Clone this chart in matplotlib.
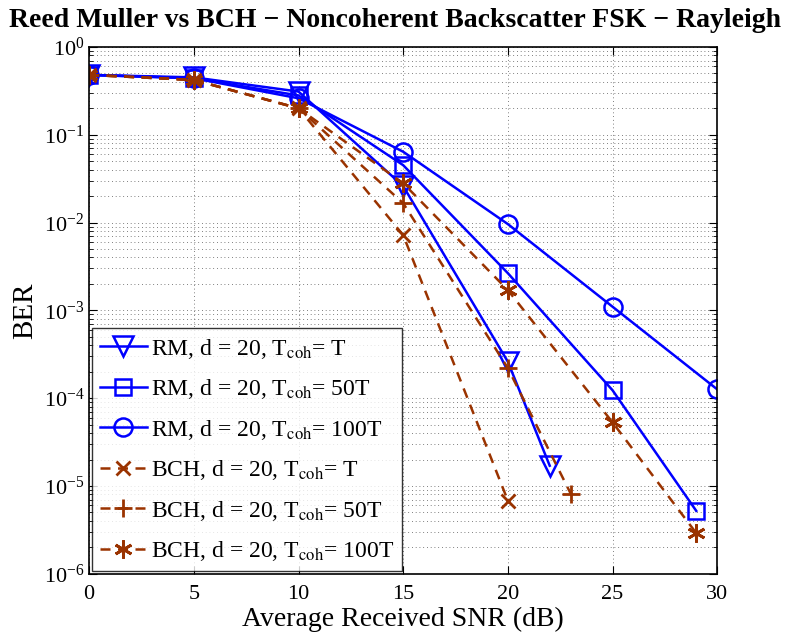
import matplotlib
matplotlib.use('Agg')
import matplotlib.pyplot as plt
import numpy as np

plt.rcParams['font.family'] = ['Liberation Serif', 'DejaVu Serif']
plt.rcParams['mathtext.fontset'] = 'stix'

# データ (Average Received SNR in dB, BER)
snr_rm_t = [0, 5, 10, 15, 20, 22]
ber_rm_t = [0.48, 0.45, 0.31, 0.026, 2.6e-4, 1.7e-5]

snr_rm_50 = [0, 5, 10, 15, 20, 25, 29]
ber_rm_50 = [0.48, 0.44, 0.28, 0.045, 2.65e-3, 1.23e-4, 5.2e-6]

snr_rm_100 = [0, 5, 10, 15, 20, 25, 30]
ber_rm_100 = [0.48, 0.44, 0.26, 0.064, 9.6e-3, 1.1e-3, 1.26e-4]

snr_bch_t = [0, 5, 10, 15, 20]
ber_bch_t = [0.48, 0.42, 0.2, 7.2e-3, 6.8e-6]

snr_bch_50 = [0, 5, 10, 15, 20, 23]
ber_bch_50 = [0.48, 0.42, 0.2, 0.0166, 2.2e-4, 8.2e-6]

snr_bch_100 = [0, 5, 10, 15, 20, 25, 29]
ber_bch_100 = [0.48, 0.42, 0.2, 0.028, 1.7e-3, 5.3e-5, 2.9e-6]

labels = [r'RM, d = 20, T$_{\rm coh}$= T',
          r'RM, d = 20, T$_{\rm coh}$= 50T',
          r'RM, d = 20, T$_{\rm coh}$= 100T',
          r'BCH, d = 20, T$_{\rm coh}$= T',
          r'BCH, d = 20, T$_{\rm coh}$= 50T',
          r'BCH, d = 20, T$_{\rm coh}$= 100T']

blue = '#0000ff'
brown = '#9a3300'

fig = plt.figure(figsize=(7.89, 6.34), dpi=100)
ax = fig.add_axes([0.113, 0.095, 0.796, 0.831])

lw = 1.8
ax.semilogy(snr_rm_t, ber_rm_t, '-', color=blue, lw=lw, marker='v', ms=14,
            mfc='none', mec=blue, mew=1.8, label=labels[0])
ax.semilogy(snr_rm_50, ber_rm_50, '-', color=blue, lw=lw, marker='s', ms=11,
            mfc='none', mec=blue, mew=1.8, label=labels[1])
ax.semilogy(snr_rm_100, ber_rm_100, '-', color=blue, lw=lw, marker='o', ms=13,
            mfc='none', mec=blue, mew=1.8, label=labels[2])
ax.semilogy(snr_bch_t, ber_bch_t, '--', color=brown, lw=lw, marker='x', ms=10,
            mew=2, dashes=(4, 3), label=labels[3])
ax.semilogy(snr_bch_50, ber_bch_50, '--', color=brown, lw=lw, marker='+', ms=13,
            mew=2, dashes=(4, 3), label=labels[4])
ax.semilogy(snr_bch_100, ber_bch_100, '--', color=brown, lw=lw, marker=(6, 2, 0),
            ms=13, mew=2, mec=brown, dashes=(4, 3), label=labels[5])

ax.set_xlim(0, 30)
ax.set_ylim(1e-6, 1)
ax.set_xticks([0, 5, 10, 15, 20, 25, 30])
ax.set_yticks([1e-6, 1e-5, 1e-4, 1e-3, 1e-2, 1e-1, 1])

ax.grid(True, which='major', axis='x', linestyle=(0, (1, 3.5)), color='#555555', lw=0.6)
ax.grid(True, which='both', axis='y', linestyle=(0, (1, 3.5)), color='#555555', lw=0.6)
ax.tick_params(which='both', direction='in', top=True, right=True, labelsize=16)
ax.tick_params(axis='x', pad=8)
ax.tick_params(which='major', length=6)
ax.tick_params(which='minor', length=3)
for s in ax.spines.values():
    s.set_linewidth(1.2)

ax.set_xlabel('Average Received SNR (dB)', fontsize=20, labelpad=2)
ax.set_ylabel('BER', fontsize=21, labelpad=4)
ax.set_title('Reed Muller vs BCH \u2212 Noncoherent Backscatter FSK \u2212 Rayleigh',
             fontsize=20, fontweight='bold', pad=14, x=0.487)

leg = ax.legend(loc='lower left', fontsize=17, frameon=True, fancybox=False,
                edgecolor='black', borderaxespad=0.1, handlelength=2.0,
                handletextpad=0.15, labelspacing=0.7, borderpad=0.35)
leg.get_frame().set_linewidth(1.0)

fig.savefig('out.png', dpi=100)
